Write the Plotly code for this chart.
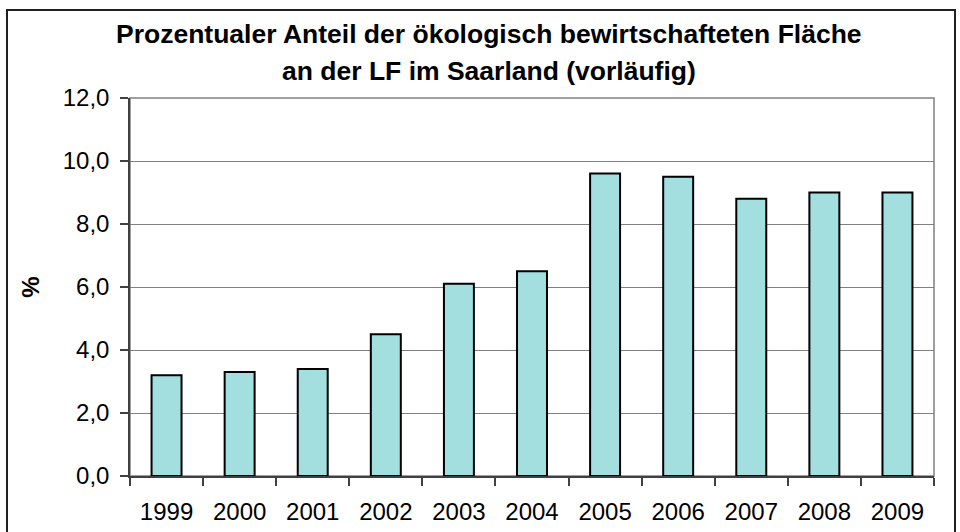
import plotly.graph_objects as go

years = ["1999", "2000", "2001", "2002", "2003", "2004", "2005", "2006", "2007", "2008", "2009"]
values = [3.2, 3.3, 3.4, 4.5, 6.1, 6.5, 9.6, 9.5, 8.8, 9.0, 9.0]
title_lines = ["Prozentualer Anteil der ökologisch bewirtschafteten Fläche",
               "an der LF im Saarland (vorläufig)"]
y_ticks = [0, 2, 4, 6, 8, 10, 12]

W, H = 960, 532
ml, mr, mt, mb = 130, 26, 98, 56
pw, ph = W - ml - mr, H - mt - mb

def px(x):
    return (x - ml) / pw

def py(y):
    return (H - mb - y) / ph

fig = go.Figure(go.Bar(
    x=years, y=values,
    marker=dict(color="#A3DFDF", line=dict(color="#000000", width=2)),
    width=0.41,
))

fig.update_layout(
    width=W, height=H,
    margin=dict(l=ml, r=mr, t=mt, b=mb, pad=0),
    paper_bgcolor="white", plot_bgcolor="white",
    separators=",.",
    showlegend=False,
    font=dict(family="Liberation Sans, Arial, sans-serif", color="#000000"),
    xaxis=dict(
        type="category", automargin=False,
        showline=True, linecolor="#404040", linewidth=1.5, mirror=False,
        ticks="outside", ticklen=8, tickcolor="#404040", tickwidth=1.5,
        tickson="boundaries",
        tickfont=dict(size=24),
        ticklabelstandoff=13,
        showgrid=False,
    ),
    yaxis=dict(
        range=[0, 12], tickvals=y_ticks, tickformat=".1f", automargin=False,
        showline=True, linecolor="#404040", linewidth=1.5,
        ticks="outside", ticklen=8, tickcolor="#404040", tickwidth=1.5,
        tickfont=dict(size=24),
        ticklabelstandoff=6,
        showgrid=True, gridcolor="#808080", gridwidth=1,
        zeroline=False,
        title=dict(text="<b>%</b>", font=dict(size=24), standoff=16),
    ),
    shapes=[
        dict(type="rect", xref="paper", yref="paper", x0=0, x1=1, y0=0, y1=1,
             line=dict(color="#808080", width=1.5), layer="below"),
        dict(type="rect", xref="paper", yref="paper",
             x0=px(7), x1=px(955), y0=py(10), y1=py(545),
             line=dict(color="#202020", width=2)),
    ],
    annotations=[
        dict(text="<b>" + title_lines[0] + "</b>", xref="paper", yref="paper",
             x=px(489), y=py(34), xanchor="center", yanchor="middle",
             showarrow=False, font=dict(size=26.5)),
        dict(text="<b>" + title_lines[1] + "</b>", xref="paper", yref="paper",
             x=px(489), y=py(71), xanchor="center", yanchor="middle",
             showarrow=False, font=dict(size=26.5)),
    ],
)

fig.write_html("out.html",
               config={"displayModeBar": False},
               post_script="document.body.style.margin='0';document.body.style.overflow='hidden';")
